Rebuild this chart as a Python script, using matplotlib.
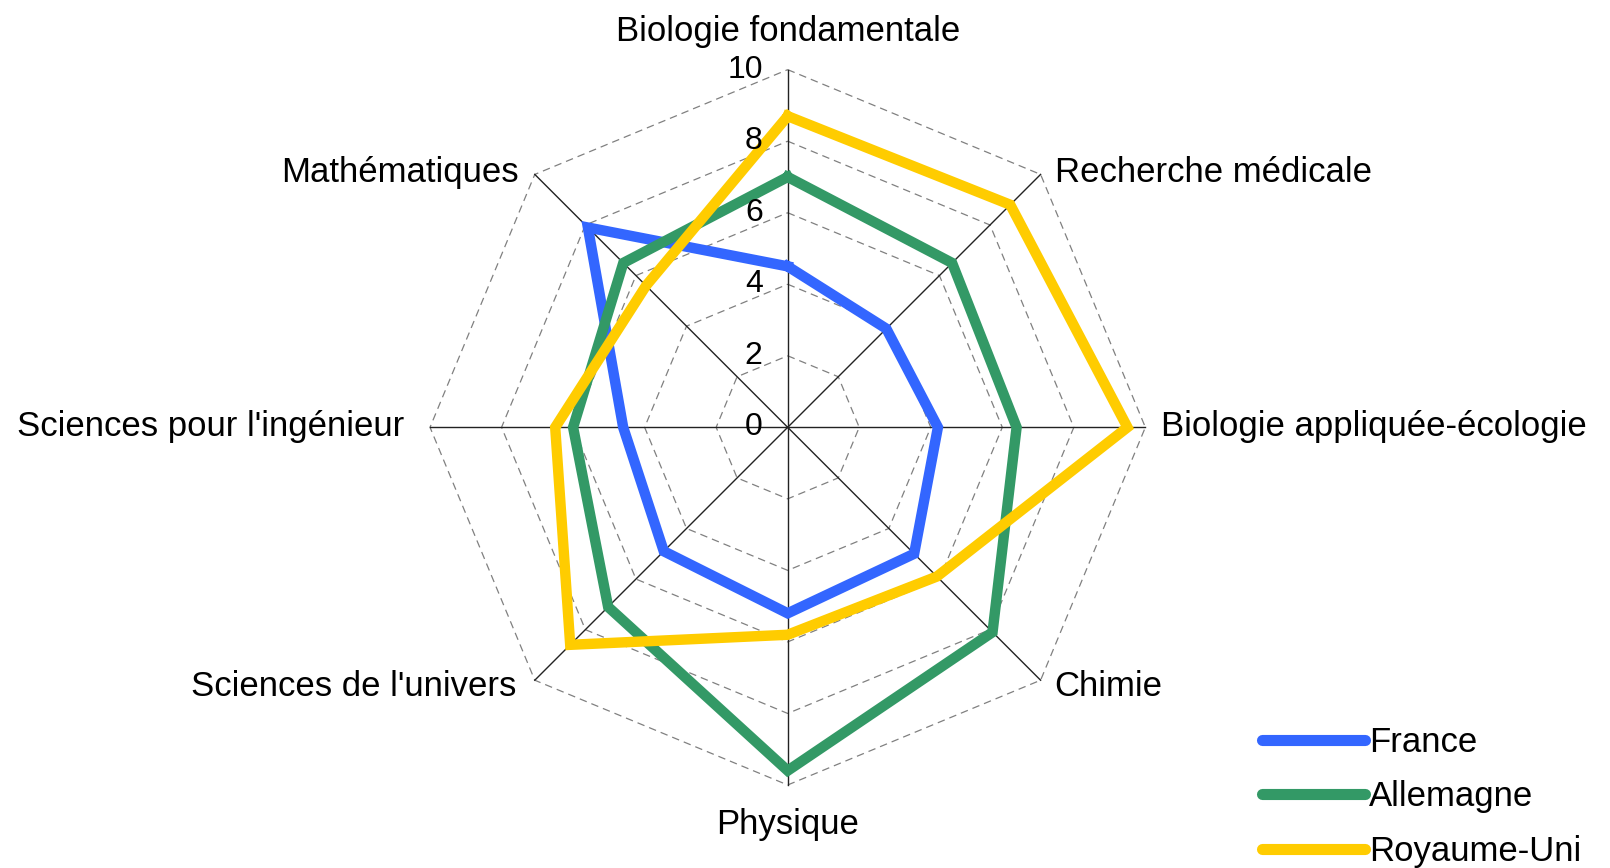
import matplotlib
matplotlib.use("Agg")
import matplotlib.pyplot as plt
import numpy as np
from matplotlib.transforms import ScaledTranslation

plt.rcParams["font.family"] = ["Liberation Sans", "DejaVu Sans"]

# axes, clockwise from the top
categories = ["Biologie fondamentale", "Recherche médicale",
              "Biologie appliquée-écologie", "Chimie", "Physique",
              "Sciences de l'univers", "Sciences pour l'ingénieur",
              "Mathématiques"]
france = [4.5, 3.9, 4.2, 5.0, 5.2, 4.9, 4.6, 7.9]
allemagne = [7.0, 6.5, 6.4, 8.1, 9.6, 7.1, 6.0, 6.5]
royaume_uni = [8.7, 8.8, 9.5, 5.9, 5.8, 8.6, 6.5, 5.6]
series = [("France", france, "#3366ff"),
          ("Allemagne", allemagne, "#339966"),
          ("Royaume-Uni", royaume_uni, "#ffcc00")]
rticks = [0, 2, 4, 6, 8, 10]

n = len(categories)
theta = np.arange(n) * 2 * np.pi / n
closed = np.append(theta, theta[0])

fig = plt.figure(figsize=(16.1, 8.68), dpi=100)
ax = fig.add_axes([0.2671, 0.0956, 0.4443, 0.8242], projection="polar")
ax.set_theta_zero_location("N")
ax.set_theta_direction(-1)
ax.set_ylim(0, 10)
ax.grid(False)
ax.set_xticks([])
ax.set_yticks([])
ax.spines["polar"].set_visible(False)
ax.patch.set_visible(False)

# octagonal dashed grid + solid spokes
for r in rticks[1:]:
    ax.plot(closed, [r] * (n + 1), color="#808080", lw=0.9, ls=(0, (6, 4)),
            clip_on=False, zorder=1)
for t in theta:
    ax.plot([t, t], [0, 10], color="#222222", lw=1.0, clip_on=False, zorder=1)

for name, vals, col in series:
    ax.plot(closed, vals + vals[:1], color=col, lw=7.5, label=name,
            solid_joinstyle="miter", clip_on=False, zorder=3)

# radial tick labels left of the vertical axis
off = ScaledTranslation(-25 / 100, 0, fig.dpi_scale_trans)
for r in rticks:
    ax.text(0, r, str(r), transform=ax.transData + off, ha="right",
            va="center", fontsize=23, zorder=5)

# category labels around the outside (pixel offsets from the spoke end)
label_pos = [((0, 38), "center", "center"),
             ((14, 2), "left", "center"),
             ((16, 1), "left", "center"),
             ((14, -6), "left", "center"),
             ((0, -40), "center", "center"),
             ((-18, -6), "right", "center"),
             ((-26, 1), "right", "center"),
             ((-16, 2), "right", "center")]
for t, lab, (xy, ha, va) in zip(theta, categories, label_pos):
    ax.annotate(lab, (t, 10), xytext=xy, textcoords="offset pixels",
                ha=ha, va=va, fontsize=25, annotation_clip=False)

fig.legend(loc="center left", bbox_to_anchor=(0.7839, 0.0818), frameon=False,
           fontsize=25, handlelength=2.95, handletextpad=0.12,
           labelspacing=0.61, borderpad=0, borderaxespad=0)
for h in fig.legends[0].get_lines():
    h.set_linewidth(8)
    h.set_solid_capstyle("round")

fig.savefig("out.png", dpi=100)
